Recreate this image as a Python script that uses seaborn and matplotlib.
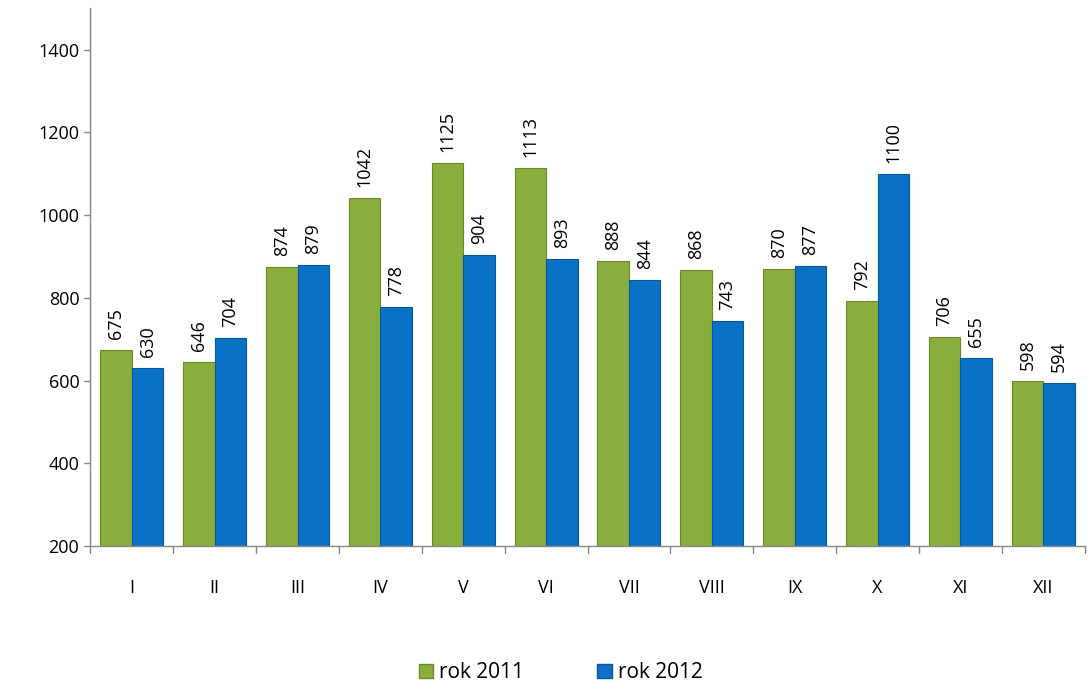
import pandas as pd
import matplotlib
matplotlib.use("Agg")
import matplotlib.pyplot as plt
import seaborn as sns

months = ['I', 'II', 'III', 'IV', 'V', 'VI', 'VII', 'VIII', 'IX', 'X', 'XI', 'XII']
rok_2011 = [675, 646, 874, 1042, 1125, 1113, 888, 868, 870, 792, 706, 598]
rok_2012 = [630, 704, 879, 778, 904, 893, 844, 743, 877, 1100, 655, 594]
series = ['rok 2011', 'rok 2012']

df = pd.DataFrame({
    'miesiac': months * 2,
    'wartosc': rok_2011 + rok_2012,
    'rok': [series[0]] * len(months) + [series[1]] * len(months),
})

sns.set_style('white')
plt.rcParams['font.family'] = ['Open Sans', 'DejaVu Sans']
plt.rcParams['text.color'] = 'black'
plt.rcParams['xtick.color'] = 'black'
plt.rcParams['ytick.color'] = 'black'

fig = plt.figure(figsize=(10.89, 6.87), dpi=100)
ax = fig.add_axes([0.083, 0.205, 0.913, 0.783])

palette = {'rok 2011': '#8aae3e', 'rok 2012': '#0a72c6'}
sns.barplot(data=df, x='miesiac', y='wartosc', hue='rok', palette=palette,
            width=0.76, saturation=1, ax=ax, legend=False, bottom=0)

edges = {'rok 2011': '#6a8a2a', 'rok 2012': '#07589a'}
for cont, name in zip(ax.containers, series):
    for bar in cont:
        bar.set_edgecolor(edges[name])
        bar.set_linewidth(0.8)
    ax.bar_label(cont, labels=[str(int(v)) for v in cont.datavalues],
                 rotation=90, padding=8, fontsize=13, color='black')

ax.set_ylim(200, 1500)
ax.set_yticks(range(200, 1401, 200))
ax.set_xlabel('')
ax.set_ylabel('')
ax.tick_params(axis='both', labelsize=13, labelcolor='black')
ax.tick_params(axis='x', length=0, pad=24)
ax.tick_params(axis='y', length=0, pad=8)

for s in ['top', 'right']:
    ax.spines[s].set_visible(False)
for s in ['left', 'bottom']:
    ax.spines[s].set_color('#888888')
    ax.spines[s].set_linewidth(1)

# category boundary tick marks on x axis
for i in range(len(months) + 1):
    ax.plot([i - 0.5, i - 0.5], [0, -0.012], transform=ax.get_xaxis_transform(),
            color='#888888', lw=1, clip_on=False)
ax.set_xlim(-0.5, len(months) - 0.5)
# small tick marks on y axis
for t in range(200, 1501, 200):
    ax.plot([0, -0.006], [t, t], transform=ax.get_yaxis_transform(),
            color='#888888', lw=1, clip_on=False)

handles = [plt.Rectangle((0, 0), 1, 1, facecolor=palette[n], edgecolor=edges[n]) for n in series]
fig.legend(handles, series, loc='lower center', ncol=2, frameon=False,
           fontsize=15, bbox_to_anchor=(0.515, -0.022), handlelength=0.7,
           handleheight=0.7, handletextpad=0.3, columnspacing=3.5)

fig.savefig('out.png', dpi=100)
